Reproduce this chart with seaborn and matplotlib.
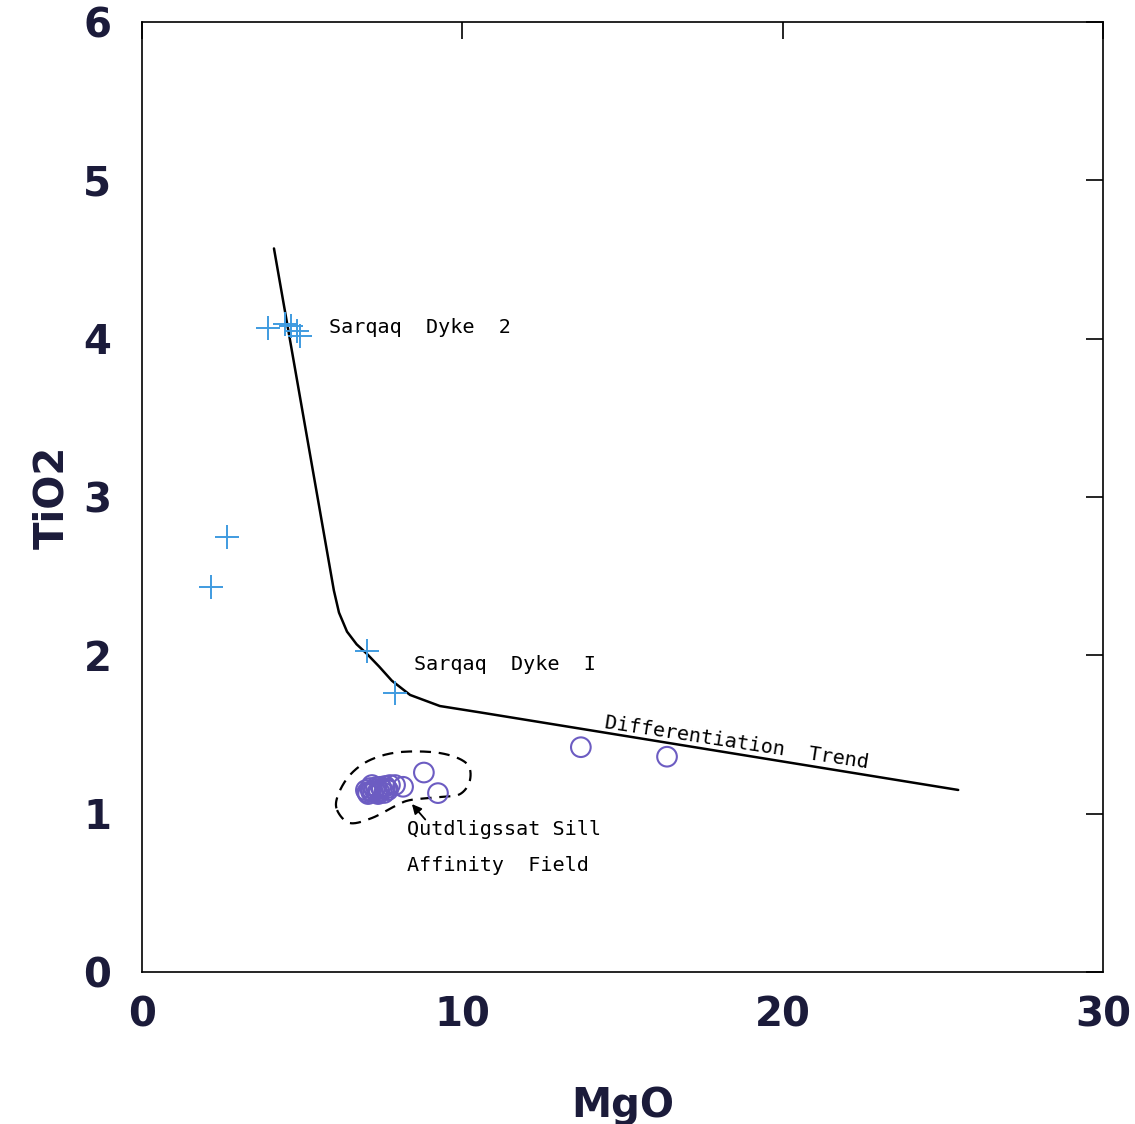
import numpy as np
import pandas as pd
import matplotlib
matplotlib.use("Agg")
import matplotlib.pyplot as plt
import seaborn as sns

# Sarqaq dykes (crosses)
dyke_mgo = [3.93, 4.47, 4.65, 4.84, 4.93, 2.65, 2.15, 7.02, 7.90]
dyke_tio2 = [4.07, 4.09, 4.08, 4.05, 4.02, 2.75, 2.43, 2.03, 1.76]

# Qutdligssat-type samples (open circles)
sill_mgo = [6.99, 7.12, 7.21, 7.31, 7.40, 7.49, 7.59, 7.68, 7.18, 7.37, 7.06,
            7.56, 7.74, 7.90, 7.03, 7.26, 7.45, 7.64, 7.15, 7.34,
            8.15, 8.80, 9.24, 13.70, 16.39]
sill_tio2 = [1.149, 1.162, 1.137, 1.168, 1.143, 1.156, 1.175, 1.149, 1.181,
             1.124, 1.124, 1.131, 1.181, 1.181, 1.135, 1.152, 1.170, 1.160,
             1.140, 1.133, 1.17, 1.26, 1.13, 1.42, 1.36]

# Differentiation trend curve
trend_mgo = [4.12, 5.99, 6.15, 6.40, 6.70, 7.02, 7.40, 7.80, 8.37, 9.30, 10.55, 25.48]
trend_tio2 = [4.57, 2.41, 2.27, 2.15, 2.07, 2.01, 1.93, 1.84, 1.75, 1.68, 1.64, 1.15]

# Outline of the affinity field
field_mgo = [6.09, 6.49, 7.18, 7.90, 8.37, 9.30, 9.93, 10.24, 10.12, 9.30, 8.05, 7.12, 6.49, 6.12]
field_tio2 = [1.023, 0.941, 0.973, 1.048, 1.086, 1.105, 1.124, 1.213, 1.320, 1.383, 1.389, 1.339, 1.244, 1.118]

x_ticks = [0, 10, 20, 30]
y_ticks = [0, 1, 2, 3, 4, 5, 6]

sns.set_theme(style="white")
plt.rcParams["font.family"] = ["DejaVu Sans"]

label_color = "#1b1b3a"
cross_color = "#3f9be0"
circle_color = "#6c5cc2"


def closed_smooth(xs, ys, n=24):
    """Closed Catmull-Rom path through the outline vertices."""
    p = np.column_stack([xs, ys])
    m = len(p)
    out = []
    for i in range(m):
        p0, p1, p2, p3 = p[(i - 1) % m], p[i], p[(i + 1) % m], p[(i + 2) % m]
        t = np.linspace(0, 1, n, endpoint=False)[:, None]
        seg = 0.5 * ((2 * p1) + (-p0 + p2) * t + (2 * p0 - 5 * p1 + 4 * p2 - p3) * t**2
                     + (-p0 + 3 * p1 - 3 * p2 + p3) * t**3)
        out.append(seg)
    out.append(p[:1])
    out = np.vstack(out)
    return out[:, 0], out[:, 1]


fig = plt.figure(figsize=(11.35, 11.24), dpi=100)
ax = fig.add_axes([0.1251, 0.1352, 0.8467, 0.8452])

dykes = pd.DataFrame({"MgO": dyke_mgo, "TiO2": dyke_tio2})
sills = pd.DataFrame({"MgO": sill_mgo, "TiO2": sill_tio2})
trend = pd.DataFrame({"MgO": trend_mgo, "TiO2": trend_tio2})

sns.lineplot(data=trend, x="MgO", y="TiO2", sort=False, estimator=None,
             color="black", linewidth=1.8, ax=ax)

fx, fy = closed_smooth(field_mgo, field_tio2)
ax.plot(fx, fy, color="black", linewidth=1.6, linestyle=(0, (5, 3.5)))

sns.scatterplot(data=dykes, x="MgO", y="TiO2", marker="+", s=300,
                color=cross_color, linewidth=1.4, ax=ax, zorder=3)
sns.scatterplot(data=sills, x="MgO", y="TiO2", marker="o", s=200,
                color=circle_color, linewidth=1.5, ax=ax, zorder=3)
coll = ax.collections[-1]
coll.set_facecolor("none")
coll.set_edgecolor(circle_color)

text_kw = dict(fontsize=14.5, color="black", family="DejaVu Sans Mono")
ax.text(5.84, 4.07, "Sarqaq  Dyke  2", va="center", ha="left", **text_kw)
ax.text(8.49, 1.945, "Sarqaq  Dyke  I", va="center", ha="left", **text_kw)
ax.text(8.27, 0.903, "Qutdligssat Sill", va="center", ha="left", **text_kw)
ax.text(8.27, 0.67, "Affinity  Field", va="center", ha="left", **text_kw)
ax.text(18.55, 1.446, "Differentiation  Trend", va="center", ha="center",
        rotation=-8.7, rotation_mode="anchor", **text_kw)

ax.annotate("", xy=(8.37, 1.074), xytext=(8.90, 0.95),
            arrowprops=dict(arrowstyle="-|>", color="black", lw=1.3,
                            mutation_scale=14))

ax.set_xlim(0, 30)
ax.set_ylim(0, 6)
ax.set_xticks(x_ticks)
ax.set_yticks(y_ticks)
ax.set_xticklabels([str(v) for v in x_ticks])
ax.set_yticklabels([str(v) for v in y_ticks])

ax.tick_params(axis="x", bottom=False, top=True, labelbottom=True, labeltop=False,
               direction="in", length=12, width=1.2, color="black", pad=17,
               labelsize=29, labelcolor=label_color)
ax.tick_params(axis="y", left=False, right=True, labelleft=True, labelright=False,
               direction="in", length=12, width=1.2, color="black", pad=22,
               labelsize=29, labelcolor=label_color)
for lab in ax.get_xticklabels() + ax.get_yticklabels():
    lab.set_fontweight("heavy")

for side in ax.spines.values():
    side.set_visible(True)
    side.set_color("black")
    side.set_linewidth(1.2)

ax.set_xlabel("MgO", fontsize=29, fontweight="heavy", color=label_color, labelpad=36)
ax.set_ylabel("TiO2", fontsize=29, fontweight="heavy", color=label_color, labelpad=8)

fig.savefig("out.png", dpi=100, facecolor="white")
